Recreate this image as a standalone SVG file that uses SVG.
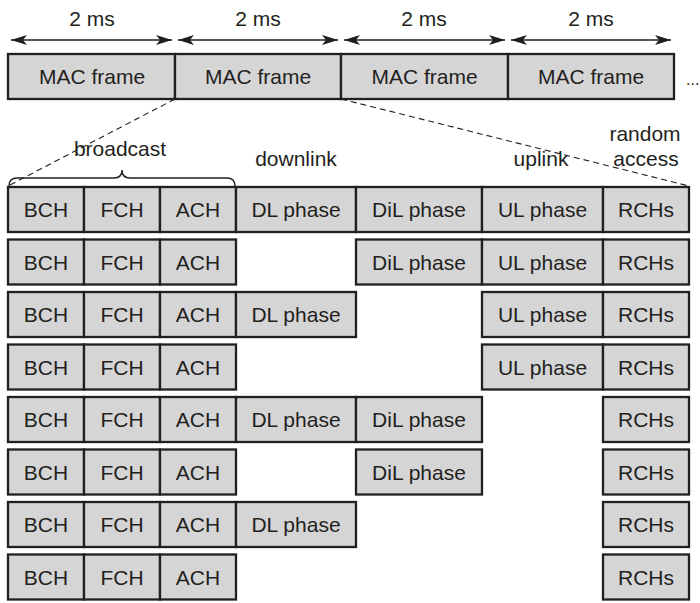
<svg xmlns="http://www.w3.org/2000/svg" width="700" height="603" viewBox="0 0 700 603">
<style>
text{font-family:"Liberation Sans",Arial,sans-serif;font-size:21px;fill:#231f20;text-anchor:middle}
.b{fill:#d5d5d6;stroke:#231f20;stroke-width:2.3}
.a{stroke:#231f20;stroke-width:1.4;fill:none}
.d{stroke:#231f20;stroke-width:1.1;fill:none;stroke-dasharray:6,4}
</style>
<defs>
<marker id="ah" viewBox="0 0 16 10" refX="16" refY="5" markerWidth="16" markerHeight="10" markerUnits="userSpaceOnUse" orient="auto-start-reverse"><path d="M0,0 L16,5 L0,10 L4,5 Z" fill="#231f20"/></marker>
</defs>
<rect width="700" height="603" fill="#fff"/>
<g id="timing">
<line class="a" x1="11" y1="40" x2="172" y2="40" marker-start="url(#ah)" marker-end="url(#ah)"/>
<line class="a" x1="178" y1="40" x2="338" y2="40" marker-start="url(#ah)" marker-end="url(#ah)"/>
<line class="a" x1="344" y1="40" x2="505" y2="40" marker-start="url(#ah)" marker-end="url(#ah)"/>
<line class="a" x1="511" y1="40" x2="671" y2="40" marker-start="url(#ah)" marker-end="url(#ah)"/>
<text x="92" y="26">2 ms</text>
<text x="258" y="26">2 ms</text>
<text x="424" y="26">2 ms</text>
<text x="591" y="26">2 ms</text>
</g>
<g id="mac">
<rect class="b" x="8" y="54" width="167" height="45"/>
<rect class="b" x="175" y="54" width="166" height="45"/>
<rect class="b" x="341" y="54" width="167" height="45"/>
<rect class="b" x="508" y="54" width="166" height="45"/>
<text x="92" y="84">MAC frame</text>
<text x="258" y="84">MAC frame</text>
<text x="424.5" y="84">MAC frame</text>
<text x="591" y="84">MAC frame</text>
<text x="686" y="85" style="text-anchor:start;font-size:16px">...</text>
</g>
<g id="connectors">
<line class="d" x1="175" y1="99" x2="8" y2="186"/>
<line class="d" x1="341" y1="99" x2="689" y2="186"/>
<path class="a" d="M9,186 Q9,178 17,178 L114,178 Q122,178 122,170 Q122,178 130,178 L227,178 Q235,178 235,186" stroke-width="1"/>
</g>
<g id="labels">
<text x="120" y="156">broadcast</text>
<text x="296" y="166">downlink</text>
<text x="541" y="166">uplink</text>
<text x="645" y="141">random</text>
<text x="646" y="166">access</text>
</g>
<g id="rows">
<g id="row1" transform="translate(0,187)">
<rect class="b" x="8" y="0" width="76" height="45"/><text x="46" y="30">BCH</text>
<rect class="b" x="84" y="0" width="76" height="45"/><text x="122" y="30">FCH</text>
<rect class="b" x="160" y="0" width="76" height="45"/><text x="198" y="30">ACH</text>
<rect class="b" x="236" y="0" width="120" height="45"/><text x="296" y="30">DL phase</text>
<rect class="b" x="356" y="0" width="126" height="45"/><text x="419" y="30">DiL phase</text>
<rect class="b" x="482" y="0" width="121" height="45"/><text x="542.5" y="30">UL phase</text>
<rect class="b" x="603" y="0" width="86" height="45"/><text x="646" y="30">RCHs</text>
</g>
<g id="row2" transform="translate(0,239.5)">
<rect class="b" x="8" y="0" width="76" height="45"/><text x="46" y="30">BCH</text>
<rect class="b" x="84" y="0" width="76" height="45"/><text x="122" y="30">FCH</text>
<rect class="b" x="160" y="0" width="76" height="45"/><text x="198" y="30">ACH</text>
<rect class="b" x="356" y="0" width="126" height="45"/><text x="419" y="30">DiL phase</text>
<rect class="b" x="482" y="0" width="121" height="45"/><text x="542.5" y="30">UL phase</text>
<rect class="b" x="603" y="0" width="86" height="45"/><text x="646" y="30">RCHs</text>
</g>
<g id="row3" transform="translate(0,292)">
<rect class="b" x="8" y="0" width="76" height="45"/><text x="46" y="30">BCH</text>
<rect class="b" x="84" y="0" width="76" height="45"/><text x="122" y="30">FCH</text>
<rect class="b" x="160" y="0" width="76" height="45"/><text x="198" y="30">ACH</text>
<rect class="b" x="236" y="0" width="120" height="45"/><text x="296" y="30">DL phase</text>
<rect class="b" x="482" y="0" width="121" height="45"/><text x="542.5" y="30">UL phase</text>
<rect class="b" x="603" y="0" width="86" height="45"/><text x="646" y="30">RCHs</text>
</g>
<g id="row4" transform="translate(0,344.5)">
<rect class="b" x="8" y="0" width="76" height="45"/><text x="46" y="30">BCH</text>
<rect class="b" x="84" y="0" width="76" height="45"/><text x="122" y="30">FCH</text>
<rect class="b" x="160" y="0" width="76" height="45"/><text x="198" y="30">ACH</text>
<rect class="b" x="482" y="0" width="121" height="45"/><text x="542.5" y="30">UL phase</text>
<rect class="b" x="603" y="0" width="86" height="45"/><text x="646" y="30">RCHs</text>
</g>
<g id="row5" transform="translate(0,397)">
<rect class="b" x="8" y="0" width="76" height="45"/><text x="46" y="30">BCH</text>
<rect class="b" x="84" y="0" width="76" height="45"/><text x="122" y="30">FCH</text>
<rect class="b" x="160" y="0" width="76" height="45"/><text x="198" y="30">ACH</text>
<rect class="b" x="236" y="0" width="120" height="45"/><text x="296" y="30">DL phase</text>
<rect class="b" x="356" y="0" width="126" height="45"/><text x="419" y="30">DiL phase</text>
<rect class="b" x="603" y="0" width="86" height="45"/><text x="646" y="30">RCHs</text>
</g>
<g id="row6" transform="translate(0,449.5)">
<rect class="b" x="8" y="0" width="76" height="45"/><text x="46" y="30">BCH</text>
<rect class="b" x="84" y="0" width="76" height="45"/><text x="122" y="30">FCH</text>
<rect class="b" x="160" y="0" width="76" height="45"/><text x="198" y="30">ACH</text>
<rect class="b" x="356" y="0" width="126" height="45"/><text x="419" y="30">DiL phase</text>
<rect class="b" x="603" y="0" width="86" height="45"/><text x="646" y="30">RCHs</text>
</g>
<g id="row7" transform="translate(0,502)">
<rect class="b" x="8" y="0" width="76" height="45"/><text x="46" y="30">BCH</text>
<rect class="b" x="84" y="0" width="76" height="45"/><text x="122" y="30">FCH</text>
<rect class="b" x="160" y="0" width="76" height="45"/><text x="198" y="30">ACH</text>
<rect class="b" x="236" y="0" width="120" height="45"/><text x="296" y="30">DL phase</text>
<rect class="b" x="603" y="0" width="86" height="45"/><text x="646" y="30">RCHs</text>
</g>
<g id="row8" transform="translate(0,554.5)">
<rect class="b" x="8" y="0" width="76" height="45"/><text x="46" y="30">BCH</text>
<rect class="b" x="84" y="0" width="76" height="45"/><text x="122" y="30">FCH</text>
<rect class="b" x="160" y="0" width="76" height="45"/><text x="198" y="30">ACH</text>
<rect class="b" x="603" y="0" width="86" height="45"/><text x="646" y="30">RCHs</text>
</g>
</g>
</svg>
